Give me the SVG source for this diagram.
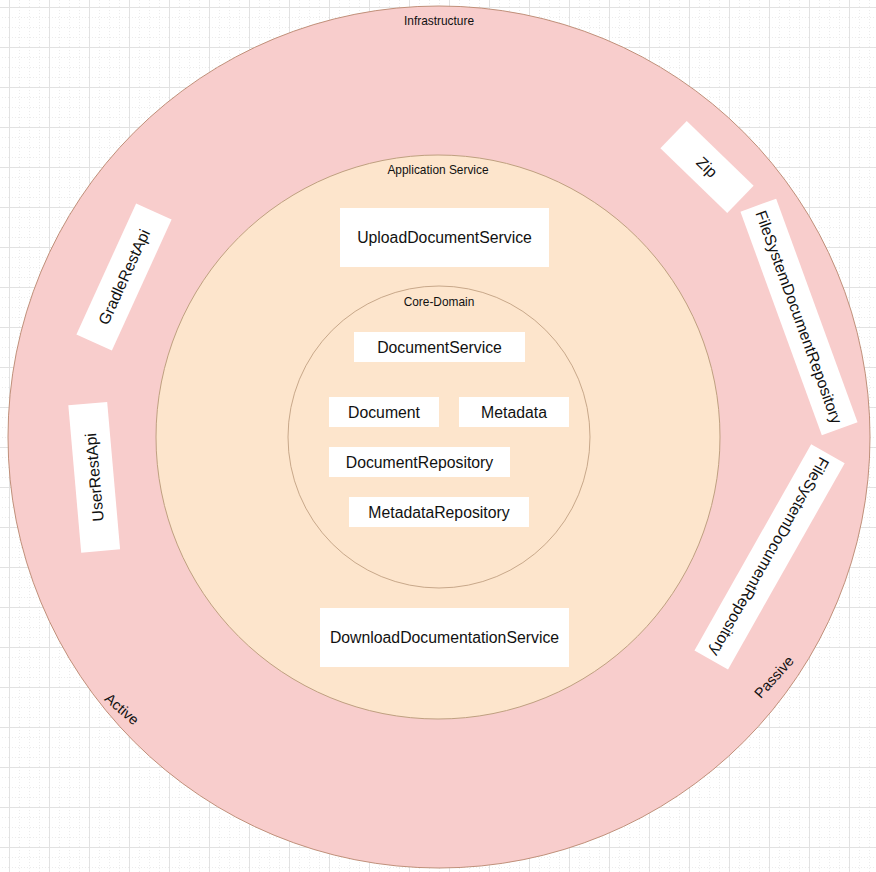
<svg xmlns="http://www.w3.org/2000/svg" width="876" height="872" viewBox="0 0 876 872">
  <defs>
    <pattern id="grid" patternUnits="userSpaceOnUse" x="9" y="7" width="40" height="40">
      <g stroke="#ececec" stroke-width="1" stroke-dasharray="1 2">
        <line x1="10.5" y1="0" x2="10.5" y2="40"/>
        <line x1="20.5" y1="0" x2="20.5" y2="40"/>
        <line x1="30.5" y1="0" x2="30.5" y2="40"/>
        <line x1="0" y1="10.5" x2="40" y2="10.5"/>
        <line x1="0" y1="20.5" x2="40" y2="20.5"/>
        <line x1="0" y1="30.5" x2="40" y2="30.5"/>
      </g>
      <g stroke="#e2e2e2" stroke-width="1">
        <line x1="0.5" y1="0" x2="0.5" y2="40"/>
        <line x1="0" y1="0.5" x2="40" y2="0.5"/>
      </g>
    </pattern>
    <style>
      .box { fill: #ffffff; }
      .t { font-family: "Liberation Sans", Arial, Helvetica, sans-serif; font-size: 15.8px; fill: #111111; text-anchor: middle; }
      .lbl { font-family: "Liberation Sans", Arial, Helvetica, sans-serif; font-size: 11.9px; fill: #111111; text-anchor: middle; }
      .side { font-family: "Liberation Sans", Arial, Helvetica, sans-serif; font-size: 14.5px; fill: #111111; text-anchor: middle; }
    </style>
  </defs>

  <rect width="876" height="872" fill="#ffffff"/>
  <rect width="876" height="872" fill="url(#grid)"/>

  <g id="infrastructure">
    <circle cx="439" cy="437" r="431" fill="#f8cdcc" stroke="#c0907a" stroke-width="1"/>
    <text class="lbl" x="439" y="25">Infrastructure</text>
    <text class="side" transform="translate(122,709) rotate(41)" x="0" y="5">Active</text>
    <text class="side" transform="translate(774,677) rotate(-48)" x="0" y="5">Passive</text>
  </g>

  <g id="application-service">
    <circle cx="438" cy="437" r="282" fill="#fde5cc" stroke="#bfa080" stroke-width="1"/>
    <text class="lbl" x="438" y="174">Application Service</text>
  </g>

  <g id="core-domain">
    <circle cx="439" cy="437" r="151" fill="#fde5cc" stroke="#c8a88a" stroke-width="1"/>
    <text class="lbl" x="439" y="305.5">Core-Domain</text>
  </g>

  <g id="upload-document-service">
    <rect class="box" x="340" y="208" width="209" height="59"/>
    <text class="t" x="444.5" y="243">UploadDocumentService</text>
  </g>

  <g id="document-service">
    <rect class="box" x="354" y="332" width="171" height="30"/>
    <text class="t" x="439.5" y="352.6">DocumentService</text>
  </g>

  <g id="document">
    <rect class="box" x="329" y="397" width="110" height="30"/>
    <text class="t" x="384" y="417.6">Document</text>
  </g>

  <g id="metadata">
    <rect class="box" x="459" y="397" width="110" height="30"/>
    <text class="t" x="514" y="417.6">Metadata</text>
  </g>

  <g id="document-repository">
    <rect class="box" x="329" y="447" width="181" height="30"/>
    <text class="t" x="419.5" y="467.6">DocumentRepository</text>
  </g>

  <g id="metadata-repository">
    <rect class="box" x="349" y="497" width="180" height="30"/>
    <text class="t" x="439" y="517.6">MetadataRepository</text>
  </g>

  <g id="download-documentation-service">
    <rect class="box" x="320" y="608" width="249" height="59"/>
    <text class="t" x="444.5" y="643">DownloadDocumentationService</text>
  </g>

  <g id="zip" transform="translate(707,167) rotate(44)">
    <rect class="box" x="-46.5" y="-19" width="93" height="38"/>
    <text class="t" x="0" y="5.6">Zip</text>
  </g>

  <g id="file-system-document-repository-1" transform="translate(799,317) rotate(70)">
    <rect class="box" x="-119" y="-19" width="238" height="38"/>
    <text class="t" x="0" y="5.6">FileSystemDocumentRepository</text>
  </g>

  <g id="file-system-document-repository-2" transform="translate(769.6,556.8) rotate(119.5)">
    <rect class="box" x="-118.5" y="-19.25" width="237" height="38.5"/>
    <text class="t" x="0" y="5.6">FileSystemDocumentRepository</text>
  </g>

  <g id="gradle-rest-api" transform="translate(124,277) rotate(-65.5)">
    <rect class="box" x="-72" y="-19.5" width="144" height="39"/>
    <text class="t" x="0" y="5.6">GradleRestApi</text>
  </g>

  <g id="user-rest-api" transform="translate(94.2,477.3) rotate(-95)">
    <rect class="box" x="-74" y="-19.5" width="148" height="39"/>
    <text class="t" x="0" y="5.6">UserRestApi</text>
  </g>

  <g id="connectors"></g>
</svg>
